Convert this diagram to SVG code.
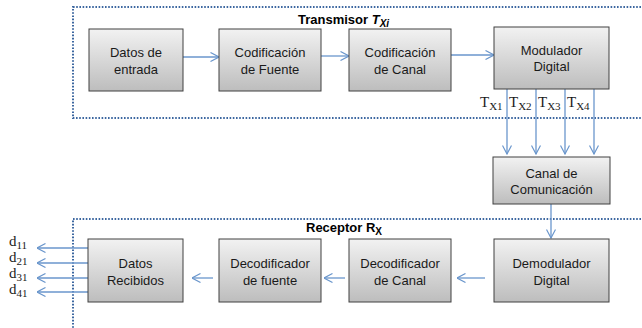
<svg xmlns="http://www.w3.org/2000/svg" width="642" height="328" viewBox="0 0 642 328">
  <style>
    .box { fill: url(#boxFill); stroke: #404040; stroke-width: 1; }
    .lbl { font-family: "Liberation Sans", Arial, sans-serif; font-size: 13px; fill: #1a1a1a; text-anchor: middle; }
    .title { font-family: "Liberation Sans", Arial, sans-serif; font-size: 13px; font-weight: bold; fill: #000; }
    .sym { font-family: "Liberation Serif", "Times New Roman", serif; font-size: 15px; fill: #1a1a1a; }
    .sub { font-size: 11px; }
    .frame { fill: none; stroke: #3c67a0; stroke-width: 2; stroke-dasharray: 1.6 1.6; }
    .wire { fill: none; stroke: #6a96cc; stroke-width: 1.3; marker-end: url(#chev); }
  </style>
  <defs>
    <linearGradient id="boxFill" x1="0" y1="0" x2="0" y2="1">
      <stop offset="0" stop-color="#f2f2f2"/>
      <stop offset="1" stop-color="#bdbdbd"/>
    </linearGradient>
    <marker id="chev" viewBox="0 0 10 10" refX="9.5" refY="5" markerWidth="10" markerHeight="10" markerUnits="userSpaceOnUse" orient="auto">
      <path d="M1,0.5 L9.5,5 L1,9.5" fill="none" stroke="#6a96cc" stroke-width="1.2"/>
    </marker>
  </defs>

  <!-- subsystem frames -->
  <rect class="frame" x="73" y="7" width="590" height="111"/>
  <rect class="frame" x="73" y="219" width="590" height="130"/>
  <text class="title" x="298" y="23.5">Transmisor <tspan font-style="italic">T</tspan><tspan font-style="italic" font-size="10" dy="3">Xi</tspan></text>
  <text class="title" x="306" y="232">Receptor R<tspan font-size="10" dy="3">X</tspan></text>

  <!-- connectors -->
  <g id="connectors">
    <line class="wire" x1="183" y1="57" x2="219" y2="57"/>
    <line class="wire" x1="321" y1="56" x2="349" y2="56"/>
    <line class="wire" x1="451" y1="55" x2="494" y2="55"/>
    <line class="wire" x1="507" y1="89" x2="507" y2="154"/>
    <line class="wire" x1="536" y1="89" x2="536" y2="154"/>
    <line class="wire" x1="565" y1="89" x2="565" y2="154"/>
    <line class="wire" x1="594" y1="89" x2="594" y2="154"/>
    <line class="wire" x1="551" y1="204" x2="551" y2="238"/>
    <line class="wire" x1="485" y1="278" x2="457" y2="278"/>
    <line class="wire" x1="345" y1="278" x2="324" y2="278"/>
    <line class="wire" x1="213" y1="278" x2="192" y2="278"/>
    <line class="wire" x1="88" y1="248" x2="37" y2="248"/>
    <line class="wire" x1="88" y1="263" x2="37" y2="263"/>
    <line class="wire" x1="88" y1="278" x2="37" y2="278"/>
    <line class="wire" x1="88" y1="292" x2="37" y2="292"/>
  </g>

  <!-- channel labels -->
  <g id="tx-labels">
    <text class="sym" x="480" y="107">T<tspan class="sub" dy="3">X1</tspan></text>
    <text class="sym" x="509" y="107">T<tspan class="sub" dy="3">X2</tspan></text>
    <text class="sym" x="538" y="107">T<tspan class="sub" dy="3">X3</tspan></text>
    <text class="sym" x="567" y="107">T<tspan class="sub" dy="3">X4</tspan></text>
  </g>
  <g id="rx-outputs">
    <text class="sym" x="9" y="246">d<tspan class="sub" dy="3">11</tspan></text>
    <text class="sym" x="9" y="262">d<tspan class="sub" dy="3">21</tspan></text>
    <text class="sym" x="9" y="278">d<tspan class="sub" dy="3">31</tspan></text>
    <text class="sym" x="9" y="294">d<tspan class="sub" dy="3">41</tspan></text>
  </g>

  <!-- transmitter chain -->
  <g id="datos-entrada">
    <rect class="box" x="89" y="29" width="94" height="62"/>
    <text class="lbl" x="136" y="57">Datos de</text>
    <text class="lbl" x="136" y="73.5">entrada</text>
  </g>
  <g id="cod-fuente">
    <rect class="box" x="219" y="29" width="102" height="62"/>
    <text class="lbl" x="270" y="57">Codificación</text>
    <text class="lbl" x="270" y="73.5">de Fuente</text>
  </g>
  <g id="cod-canal">
    <rect class="box" x="349" y="29" width="102" height="62"/>
    <text class="lbl" x="400" y="57">Codificación</text>
    <text class="lbl" x="400" y="73.5">de Canal</text>
  </g>
  <g id="modulador">
    <rect class="box" x="494" y="27" width="115" height="62"/>
    <text class="lbl" x="551.5" y="55">Modulador</text>
    <text class="lbl" x="551.5" y="71">Digital</text>
  </g>

  <!-- channel -->
  <g id="canal">
    <rect class="box" x="493" y="157" width="117" height="47"/>
    <text class="lbl" x="551.5" y="177.5">Canal de</text>
    <text class="lbl" x="551.5" y="194">Comunicación</text>
  </g>

  <!-- receiver chain -->
  <g id="demodulador">
    <rect class="box" x="494" y="239" width="115" height="63"/>
    <text class="lbl" x="551.5" y="267.5">Demodulador</text>
    <text class="lbl" x="551.5" y="284.5">Digital</text>
  </g>
  <g id="decod-canal">
    <rect class="box" x="349" y="239" width="102" height="63"/>
    <text class="lbl" x="400" y="267.5">Decodificador</text>
    <text class="lbl" x="400" y="284.5">de Canal</text>
  </g>
  <g id="decod-fuente">
    <rect class="box" x="219" y="239" width="102" height="63"/>
    <text class="lbl" x="270" y="267.5">Decodificador</text>
    <text class="lbl" x="270" y="284.5">de fuente</text>
  </g>
  <g id="datos-recibidos">
    <rect class="box" x="88" y="239" width="95" height="63"/>
    <text class="lbl" x="135.5" y="267.5">Datos</text>
    <text class="lbl" x="135.5" y="284.5">Recibidos</text>
  </g>
</svg>
